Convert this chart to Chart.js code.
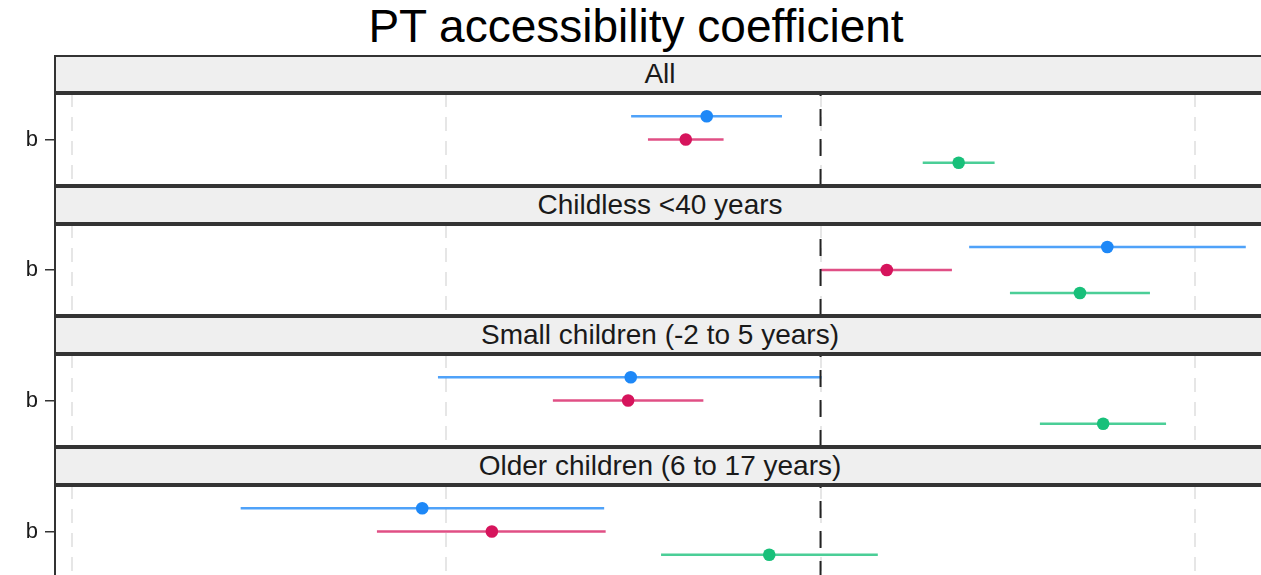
<!DOCTYPE html>
<html>
<head>
<meta charset="utf-8">
<script src="https://cdn.jsdelivr.net/npm/chart.js@4/dist/chart.umd.min.js"></script>
<style>
  html, body { margin: 0; padding: 0; background: #fff; overflow: hidden; }
  body { width: 1261px; height: 575px; position: relative; font-family: "Liberation Sans", Arial, sans-serif; }
  #title { position: absolute; left: 0; top: 0px; width: 1272px; text-align: center; font-size: 46px; line-height: 52px; color: #000; }
  .strip { position: absolute; left: 54px; width: 1212px; height: 38px; box-sizing: border-box;
           background: #efefef; border: 2px solid #333;
           text-align: center; font-size: 28px; line-height: 33px; color: #1a1a1a; }
  .panel { position: absolute; left: 0; width: 1266px; }
</style>
</head>
<body>
<div id="title">PT accessibility coefficient</div>
<div id="facets"></div>
<script>
// facets (one per panel) and the single coefficient term
const facets = ['All', 'Childless <40 years', 'Small children (-2 to 5 years)', 'Older children (6 to 17 years)'];
const termLabel = 'b';
const xTicks = [-0.2, -0.1, 0, 0.1];

// estimates and interval bounds per series, one value per facet
const estBlue  = [-0.0304, 0.0766, -0.0507, -0.1064];
const loBlue   = [-0.0506, 0.0397, -0.1022, -0.1549];
const hiBlue   = [-0.0103, 0.1136,  0.0003, -0.0578];

const estRed   = [-0.0360, 0.0177, -0.0514, -0.0878];
const loRed    = [-0.0461, 0.0000, -0.0715, -0.1185];
const hiRed    = [-0.0259, 0.0351, -0.0313, -0.0574];

const estGreen = [ 0.0369, 0.0693,  0.0755, -0.0137];
const loGreen  = [ 0.0273, 0.0506,  0.0586, -0.0426];
const hiGreen  = [ 0.0465, 0.0880,  0.0923,  0.0153];

const series = [
  { est: estBlue,  lo: loBlue,  hi: hiBlue,  dodge: 0.5,  point: '#1E88F7', line: 'rgba(30,136,247,0.78)' },
  { est: estRed,   lo: loRed,   hi: hiRed,   dodge: 0,    point: '#D6145C', line: 'rgba(214,20,92,0.75)' },
  { est: estGreen, lo: loGreen, hi: hiGreen, dodge: -0.5, point: '#18C07A', line: 'rgba(24,192,122,0.78)' }
];

const panelBorder = {
  id: 'panelBorder',
  afterDraw(chart){
    const {ctx, chartArea: a} = chart;
    ctx.save();
    ctx.strokeStyle = '#333';
    ctx.lineWidth = 2;
    ctx.strokeRect(a.left, a.top + 1, a.right - a.left + 4, a.bottom - a.top - 2);
    ctx.restore();
  }
};

function mountPanel(i){
  const stripTop = Math.round(55 + i * 130.7);
  const panelTop = stripTop + 38;
  const panelH = Math.round(55 + (i + 1) * 130.7) - panelTop;

  const holder = document.getElementById('facets');
  const strip = document.createElement('div');
  strip.className = 'strip';
  strip.style.top = stripTop + 'px';
  strip.textContent = facets[i];
  holder.appendChild(strip);

  const box = document.createElement('div');
  box.className = 'panel';
  box.style.top = panelTop + 'px';
  box.style.height = panelH + 'px';
  const cv = document.createElement('canvas');
  box.appendChild(cv);
  holder.appendChild(box);

  const datasets = [];
  // zero reference line
  datasets.push({
    type: 'line', data: [{x: 0, y: -1}, {x: 0, y: 1}],
    borderColor: '#222', borderWidth: 2, borderDash: [17, 13],
    pointRadius: 0, fill: false
  });
  series.forEach(s => {
    datasets.push({
      type: 'scatter', data: [{x: s.est[i], y: s.dodge}],
      backgroundColor: s.point, borderColor: s.point, pointRadius: 6.3, pointBorderWidth: 0
    });
  });
  series.forEach(s => {
    datasets.push({
      type: 'line', data: [{x: s.lo[i], y: s.dodge}, {x: s.hi[i], y: s.dodge}],
      borderColor: s.line, borderWidth: 2.6, pointRadius: 0, fill: false
    });
  });

  new Chart(cv, {
    type: 'scatter',
    data: { datasets },
    options: {
      responsive: true,
      maintainAspectRatio: false,
      animation: false,
      layout: { padding: 0, autoPadding: false },
      plugins: { legend: { display: false }, tooltip: { enabled: false } },
      scales: {
        x: {
          type: 'linear', min: -0.2045, max: 0.1190,
          afterBuildTicks: sc => { sc.ticks = xTicks.map(v => ({value: v})); },
          afterFit: sc => { sc.height = 0; sc.paddingLeft = 0; sc.paddingRight = 0; },
          ticks: { display: false },
          grid: { color: '#e6e6e6', lineWidth: 2, drawTicks: false },
          border: { display: false, dash: [14, 10] }
        },
        y: {
          type: 'linear', min: -1, max: 1,
          afterBuildTicks: sc => { sc.ticks = [{value: 0}]; },
          afterFit: sc => { sc.width = 55; sc.paddingTop = 0; sc.paddingBottom = 0; },
          ticks: { callback: () => termLabel, color: '#1a1a1a', padding: 7,
                   font: { family: '"Liberation Sans", Arial, sans-serif', size: 22 } },
          grid: { drawOnChartArea: false, tickLength: 10, color: '#333', lineWidth: 1.5 },
          border: { display: false }
        }
      }
    },
    plugins: [panelBorder]
  });
}

facets.forEach((f, i) => mountPanel(i));
</script>
</body>
</html>
